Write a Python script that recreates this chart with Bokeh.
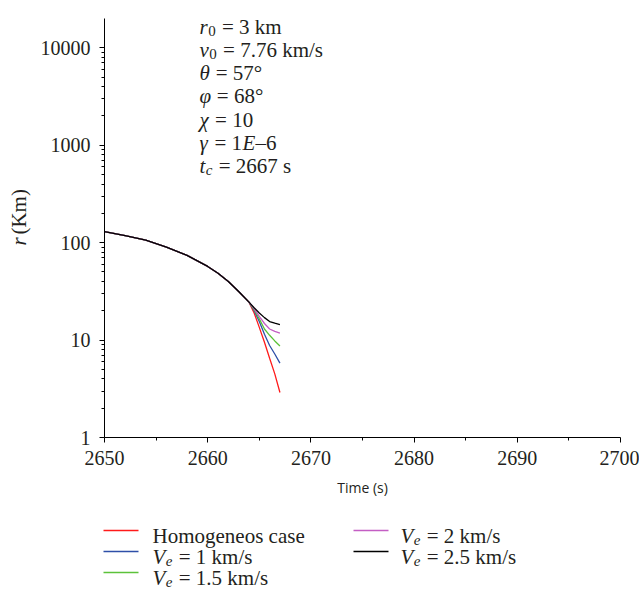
import math
from bokeh.plotting import figure
from bokeh.models import Range1d, FixedTicker, NumeralTickFormatter, LinearScale
from bokeh.layouts import column, row
from bokeh.core.properties import value
from bokeh.embed import file_html
from bokeh.resources import INLINE

# ---------------- data ----------------
time_s = [2650, 2652, 2654, 2656, 2658, 2660, 2661, 2662, 2663, 2664,
          2664.5, 2665, 2665.5, 2666, 2666.5, 2667]
r_homogeneous = [130, 118, 106, 90, 74, 57, 48.5, 40, 31.5, 24.5, 19.0, 13.5, 9.5, 6.5, 4.5, 2.9]
r_ve_1 = [130, 118, 106, 90, 74, 57, 48.5, 40, 31.5, 24.5, 20.0, 15.5, 11.5, 8.8, 7.2, 5.8]
r_ve_15 = [130, 118, 106, 90, 74, 57, 48.5, 40, 31.5, 24.5, 20.5, 16.5, 13.0, 11.2, 9.8, 8.7]
r_ve_2 = [130, 118, 106, 90, 74, 57, 48.5, 40, 31.5, 24.5, 21.0, 17.5, 14.8, 13.0, 12.3, 11.8]
r_ve_25 = [130, 118, 106, 90, 74, 57, 48.5, 40, 31.5, 24.5, 21.5, 19.0, 17.0, 15.5, 14.9, 14.4]

series = [r_homogeneous, r_ve_1, r_ve_15, r_ve_2, r_ve_25]
series_colors = ["#ff1a1a", "#2e4fa8", "#5cc23a", "#c45ec4", "#000000"]
legend_values = [None, "1", "1.5", "2", "2.5"]
legend_first = "Homogeneos case"

x_ticks = [2650, 2660, 2670, 2680, 2690, 2700]
x_minor = [2655, 2665, 2675, 2685, 2695]
y_ticks = [1, 10, 100, 1000, 10000]
y_minor = [m * 10 ** k for k in range(0, 5) for m in range(2, 10) if m * 10 ** k < 20000]

# ---------------- layout constants (pixels) ----------------
W = 639
H_MAIN = 515
H_LEG = 594 - H_MAIN
LW = 34                      # width of the y-label strip
FL, FR, FT, FB = 104, 620, 18, 437
SERIF = "Liberation Serif"
TXT = "#231f20"
FS, SS = 21, 15              # main / subscript font size

# Times-like advance widths (em)
EM = {"r": .389, "v": .444, "t": .278, "V": .611, "E": .611,
      "θ": .50, "φ": .55, "χ": .47, "γ": .44, "0": .5, "c": .444, "e": .444,
      " ": .25}


def ptext(fig, x, y, t, size, style="normal", angle=0.0, baseline="alphabetic", **kw):
    fig.text(x=[x], y=[y], text=[t], text_font=value(SERIF),
             text_font_size=f"{size}px", text_font_style=style, angle=angle,
             text_color=TXT, text_baseline=baseline, text_align="left", **kw)


def math_line(fig, x, y, var, sub, rest, sub_style="normal", **kw):
    ptext(fig, x, y, var, FS, "italic", **kw)
    cx = x + EM[var] * FS + 0.5
    if sub:
        ptext(fig, cx, y + 4, sub, SS, sub_style, **kw)
        cx += EM[sub] * SS + 1
    cx += EM[" "] * FS
    ptext(fig, cx, y, rest, FS, **kw)
    return cx


# ---------------- main plot ----------------
p = figure(width=W - LW, height=H_MAIN, y_axis_type="log",
           x_range=Range1d(2650, 2700), y_range=Range1d(1, 20000),
           output_backend="svg", toolbar_location=None,
           min_border_left=FL - LW, min_border_right=W - FR,
           min_border_top=FT, min_border_bottom=H_MAIN - FB)
p.extra_x_ranges = {"px": Range1d(FL, FR)}
p.extra_y_ranges = {"py": Range1d(FB, FT)}
p.extra_x_scales = {"px": LinearScale()}
p.extra_y_scales = {"py": LinearScale()}
p.xgrid.visible = False
p.ygrid.visible = False
p.outline_line_color = None
p.background_fill_color = "white"
p.border_fill_color = "white"

for ax in (p.xaxis[0], p.yaxis[0]):
    ax.axis_line_color = "black"
    ax.axis_line_width = 1
    ax.major_tick_line_color = "black"
    ax.minor_tick_line_color = "black"
    ax.major_tick_out = 5
    ax.major_tick_in = 0
    ax.minor_tick_out = 3
    ax.minor_tick_in = 0
    ax.major_label_text_font = SERIF
    ax.major_label_text_font_size = "20px"
    ax.major_label_text_color = TXT

p.xaxis.ticker = FixedTicker(ticks=x_ticks, minor_ticks=x_minor)
p.yaxis.ticker = FixedTicker(ticks=y_ticks, minor_ticks=y_minor)
p.yaxis.formatter = NumeralTickFormatter(format="0")
p.xaxis.major_label_standoff = 8
p.yaxis.major_label_standoff = 9
p.xaxis.axis_label = "Time (s)"
p.xaxis.axis_label_text_font = "Open Sans"
p.xaxis.axis_label_text_font_style = "normal"
p.xaxis.axis_label_text_font_size = "14px"
p.xaxis.axis_label_text_color = TXT
p.xaxis.axis_label_standoff = 10

for r, c in zip(series, series_colors):
    p.line(time_s, r, line_color=c, line_width=1.3)

# annotation block, canvas pixel coordinates
PX = dict(x_range_name="px", y_range_name="py")
x0 = 199
base = [26 + 23.3 * i for i in range(7)]
math_line(p, x0, base[0], "r", "0", "= 3 km", **PX)
math_line(p, x0, base[1], "v", "0", "= 7.76 km/s", **PX)
math_line(p, x0, base[2], "θ", None, "= 57°", **PX)
math_line(p, x0, base[3], "φ", None, "= 68°", **PX)
math_line(p, x0, base[4], "χ", None, "= 10", **PX)
gx = math_line(p, x0, base[5], "γ", None, "= 1", **PX)
ex = gx + (0.564 + 0.25 + 0.5) * FS + 0.5
ptext(p, ex, base[5], "E", FS, "italic", **PX)
ptext(p, ex + EM["E"] * FS, base[5], "–6", FS, **PX)
math_line(p, x0, base[6], "t", "c", "= 2667 s", sub_style="italic", **PX)

# ---------------- y-label strip ----------------
yl = figure(width=LW, height=H_MAIN, x_range=Range1d(0, LW), y_range=Range1d(H_MAIN, 0),
            output_backend="svg", toolbar_location=None, x_axis_type=None, y_axis_type=None,
            min_border=0)
yl.min_border_left = yl.min_border_right = yl.min_border_top = yl.min_border_bottom = 0
yl.xgrid.visible = False
yl.ygrid.visible = False
yl.outline_line_color = None
yl.background_fill_color = "white"
yl.border_fill_color = "white"
ylx, yly = 18, 279
ptext(yl, ylx, yly, "r", FS, "italic", angle=math.pi / 2, baseline="middle")
ptext(yl, ylx, yly - EM["r"] * FS - EM[" "] * FS, "(Km)", FS, angle=math.pi / 2, baseline="middle")

# ---------------- legend strip ----------------
q = figure(width=W, height=H_LEG, x_range=Range1d(0, W), y_range=Range1d(594, H_MAIN),
           output_backend="svg", toolbar_location=None, x_axis_type=None, y_axis_type=None,
           min_border=0)
q.min_border_left = q.min_border_right = q.min_border_top = q.min_border_bottom = 0
q.xgrid.visible = False
q.ygrid.visible = False
q.outline_line_color = None
q.background_fill_color = "white"
q.border_fill_color = "white"

rows = [530, 551, 572]
slots = [(103, 152, rows[0]), (103, 152, rows[1]), (103, 152, rows[2]),
         (353, 400, rows[0]), (353, 400, rows[1])]
for (lx, tx, ly), c, v in zip(slots, series_colors, legend_values):
    q.line([lx, lx + 35], [ly, ly], line_color=c, line_width=1.3)
    bl = ly + 5
    if v is None:
        ptext(q, tx, bl, legend_first, FS)
    else:
        math_line(q, tx, bl, "V", "e", f"= {v} km/s", sub_style="italic")

layout = column(row(yl, p), q)
open("out.html", "w").write(file_html(layout, INLINE))
